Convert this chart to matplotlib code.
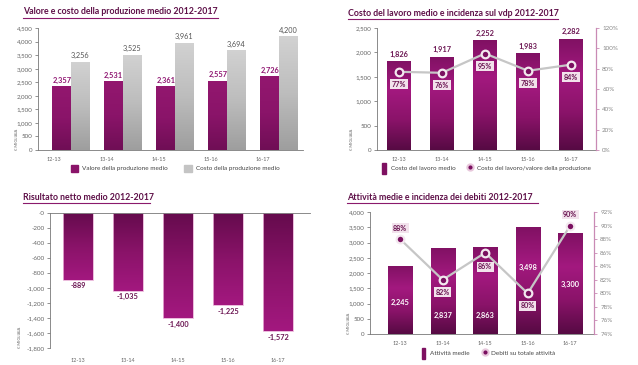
import numpy as np
import matplotlib
matplotlib.use('Agg')
import matplotlib.pyplot as plt
from matplotlib.colors import LinearSegmentedColormap
from matplotlib.patches import Patch
from matplotlib.lines import Line2D
from matplotlib.ticker import FuncFormatter

plt.rcParams['font.family'] = ['Lato', 'DejaVu Sans']

periods = ['12-13', '13-14', '14-15', '15-16', '16-17']
valore_prod = [2357, 2531, 2361, 2557, 2726]
costo_prod = [3256, 3525, 3961, 3694, 4200]
costo_lavoro = [1826, 1917, 2252, 1983, 2282]
incidenza_lavoro = [77, 76, 95, 78, 84]
risultato_netto = [-889, -1035, -1400, -1225, -1572]
attivita = [2245, 2837, 2863, 3498, 3300]
incidenza_debiti = [88, 82, 86, 80, 90]

PURPLE_DARK = '#5e1048'
LABEL_PURPLE = '#6b1552'
TICK_GRAY = '#666666'
PINK_AXIS = '#c98ab5'


def gradient_bars(ax, bars, colors):
    # paint each bar with a vertical gradient (colors listed top -> bottom)
    cmap = LinearSegmentedColormap.from_list('g', colors)
    grad = np.linspace(0, 1, 256).reshape(-1, 1)
    for b in bars:
        x0, y0 = b.get_xy()
        w, h = b.get_width(), b.get_height()
        im = ax.imshow(grad, cmap=cmap, aspect='auto', origin='upper',
                       extent=(x0, x0 + w, min(y0, y0 + h), max(y0, y0 + h)),
                       zorder=b.get_zorder() - 0.1)
        im.set_clip_path(b)
        b.set_facecolor('none')


def thousands(v, p):
    return f'{int(round(v)):,}'


def style_left(ax, unit_x):
    ax.tick_params(axis='y', length=2, width=0.5, labelsize=4.5, colors=TICK_GRAY, pad=2)
    ax.tick_params(axis='x', length=0, labelsize=4, colors=TICK_GRAY, pad=5)
    for s in ['left', 'bottom']:
        ax.spines[s].set_color('#777777')
        ax.spines[s].set_linewidth(0.6)
    ax.text(unit_x, 0.0, '€ MIGLIAIA', transform=ax.transAxes, rotation=90,
            fontsize=3.0, color=TICK_GRAY, ha='center', va='bottom')


def title(fig, x0, x1, y, text):
    W, H = 638, 365
    fig.text(x0 / W, 1 - y / H, text, fontsize=6.3, fontweight='bold',
             color=PURPLE_DARK, ha='left', va='center')
    fig.add_artist(Line2D([x0 / W, x1 / W], [1 - (y + 6) / H] * 2,
                          color='#8a1a6c', lw=0.8))


fig = plt.figure(figsize=(6.38, 3.65), dpi=100)
fig.patch.set_facecolor('white')
x = np.arange(len(periods))

# ---------- panel 1: valore e costo della produzione ----------
ax1 = fig.add_axes([0.0596, 0.589, 0.4154, 0.334])
w = 0.36
b_val = ax1.bar(x - w / 2, valore_prod, w, zorder=2)
b_cost = ax1.bar(x + w / 2, costo_prod, w, zorder=2)
gradient_bars(ax1, b_val, ['#93176f', '#8a1469', '#6f0e55'])
gradient_bars(ax1, b_cost, ['#d2d2d2', '#bdbdbd', '#9e9e9e'])
for i in range(len(periods)):
    ax1.text(x[i] - w / 2, valore_prod[i] + 90, f'{valore_prod[i]:,}', ha='center',
             va='bottom', fontsize=5.3, fontweight='bold', color='#8e1470')
    ax1.text(x[i] + w / 2, costo_prod[i] + 90, f'{costo_prod[i]:,}', ha='center',
             va='bottom', fontsize=5.3, color='#555555')
ax1.set_xlim(-0.635, 4.46)
ax1.set_ylim(0, 4500)
ax1.set_yticks(np.arange(0, 4501, 500))
ax1.yaxis.set_major_formatter(FuncFormatter(thousands))
ax1.set_xticks(x - 0.32)
ax1.set_xticklabels(periods)
for s in ['top', 'right']:
    ax1.spines[s].set_visible(False)
style_left(ax1, -0.078)
ax1.legend(handles=[Patch(color='#8a1469', label='Valore della produzione medio'),
                    Patch(color='#c4c4c4', label='Costo della produzione medio')],
           loc='center', bbox_to_anchor=(0.517, -0.15), ncol=2, frameon=False,
           fontsize=4.6, handlelength=1.2, handleheight=1.2, columnspacing=2.5,
           handletextpad=0.6, labelcolor='#444444')
title(fig, 23, 218, 12, 'Valore e costo della produzione medio 2012-2017')

# ---------- panel 2: costo del lavoro ----------
ax2 = fig.add_axes([0.591, 0.589, 0.343, 0.334])
bars2 = ax2.bar(x, costo_lavoro, 0.54, zorder=2)
gradient_bars(ax2, bars2, ['#801163', '#a3197f', '#8a1369', '#560a43'])
for i in range(len(periods)):
    ax2.text(x[i], costo_lavoro[i] + 70, f'{costo_lavoro[i]:,}', ha='center',
             va='bottom', fontsize=5.3, fontweight='bold', color=LABEL_PURPLE)
ax2.set_xlim(-0.51, 4.58)
ax2.set_ylim(0, 2500)
ax2.set_yticks(np.arange(0, 2501, 500))
ax2.yaxis.set_major_formatter(FuncFormatter(thousands))
ax2.set_xticks(x)
ax2.set_xticklabels(periods)
ax2.spines['top'].set_visible(False)
ax2.spines['right'].set_visible(False)
style_left(ax2, -0.115)
ax2r = ax2.twinx()
ax2r.set_ylim(0, 1.2)
ax2r.set_yticks(np.arange(0, 1.21, 0.2))
ax2r.yaxis.set_major_formatter(FuncFormatter(lambda v, p: f'{v * 100:.0f}%'))
ax2r.tick_params(axis='y', length=2.5, width=0.6, color=PINK_AXIS, labelcolor='#888888',
                 labelsize=4.5, pad=2)
for s in ['top', 'left', 'bottom']:
    ax2r.spines[s].set_visible(False)
ax2r.spines['right'].set_color(PINK_AXIS)
ax2r.spines['right'].set_linewidth(0.9)
inc2 = np.array(incidenza_lavoro) / 100
ax2r.plot(x, inc2, color='#c6c6c6', lw=1.6, marker='o', ms=5.5, mfc='#7a1060',
          mec='#f3e8ef', mew=1.6, zorder=3)
for i in range(len(periods)):
    ax2r.annotate(f'{incidenza_lavoro[i]}%', (x[i], inc2[i]), xytext=(0, -9),
                  textcoords='offset points', ha='center', va='center', fontsize=5.2,
                  fontweight='bold', color=LABEL_PURPLE,
                  bbox=dict(boxstyle='square,pad=0.2', fc='#f2e2ec', ec='none'))
ax2.legend(handles=[Patch(color='#7e1161', label='Costo del lavoro medio'),
                    Line2D([], [], ls='none', marker='o', ms=4.5, mfc='#7a1060',
                           mec='#e8c8dc', mew=1.5,
                           label='Costo del lavoro/valore della produzione')],
           loc='center', bbox_to_anchor=(0.5, -0.15), ncol=2, frameon=False,
           fontsize=4.6, handlelength=0.55, handleheight=2.3, columnspacing=2.0,
           handletextpad=0.8, labelcolor='#444444')
title(fig, 348, 558, 13, 'Costo del lavoro medio e incidenza sul vdp 2012-2017')

# ---------- panel 3: risultato netto ----------
ax3 = fig.add_axes([0.0784, 0.0466, 0.4075, 0.370])
bars3 = ax3.bar(x, risultato_netto, 0.6, zorder=2, edgecolor='#e8b0d6', linewidth=0.6)
gradient_bars(ax3, bars3, ['#650b4d', '#8a1369', '#a3187f'])
for i in range(len(periods)):
    ax3.annotate(f'{risultato_netto[i]:,}', (x[i], risultato_netto[i]), xytext=(0, -2),
                 textcoords='offset points', ha='center', va='top', fontsize=5.3,
                 fontweight='bold', color=LABEL_PURPLE)
ax3.set_xlim(-0.56, 4.64)
ax3.set_ylim(-1800, 0)
ax3.set_yticks(np.arange(0, -1801, -200))
ax3.yaxis.set_major_formatter(FuncFormatter(lambda v, p: f'-{abs(int(round(v))):,}'))
ax3.set_xticks(x)
ax3.set_xticklabels(periods)
ax3.spines['right'].set_visible(False)
ax3.spines['bottom'].set_visible(False)
ax3.spines['top'].set_color('#777777')
ax3.spines['top'].set_linewidth(0.6)
style_left(ax3, -0.115)
ax3.tick_params(axis='x', pad=7)
title(fig, 23, 150, 197, 'Risultato netto medio 2012-2017')

# ---------- panel 4: attività e debiti ----------
ax4 = fig.add_axes([0.580, 0.0849, 0.351, 0.334])
bars4 = ax4.bar(x, attivita, 0.57, zorder=2)
gradient_bars(ax4, bars4, ['#801163', '#a3197f', '#8a1369', '#560a43'])
label_y = [1050, 610, 610, 2200, 1620]
for i in range(len(periods)):
    ax4.text(x[i], label_y[i], f'{attivita[i]:,}', ha='center', va='center',
             fontsize=5.3, fontweight='bold', color='white', zorder=4)
ax4.set_xlim(-0.71, 4.56)
ax4.set_ylim(0, 4000)
ax4.set_yticks(np.arange(0, 4001, 500))
ax4.yaxis.set_major_formatter(FuncFormatter(thousands))
ax4.set_xticks(x)
ax4.set_xticklabels(periods)
ax4.spines['top'].set_visible(False)
ax4.spines['right'].set_visible(False)
style_left(ax4, -0.095)
ax4r = ax4.twinx()
ax4r.set_ylim(74, 92)
ax4r.set_yticks(np.arange(74, 93, 2))
ax4r.yaxis.set_major_formatter(FuncFormatter(lambda v, p: f'{v:.0f}%'))
ax4r.tick_params(axis='y', length=2.5, width=0.6, color=PINK_AXIS, labelcolor='#888888',
                 labelsize=4.5, pad=2)
for s in ['top', 'left', 'bottom']:
    ax4r.spines[s].set_visible(False)
ax4r.spines['right'].set_color(PINK_AXIS)
ax4r.spines['right'].set_linewidth(0.9)
ax4r.plot(x, incidenza_debiti, color='#c6c6c6', lw=1.6, marker='o', ms=5.5,
          mfc='#7a1060', mec='#f3e8ef', mew=1.6, zorder=3)
offsets = [8, -9, -10, -9, 8]
for i in range(len(periods)):
    ax4r.annotate(f'{incidenza_debiti[i]}%', (x[i], incidenza_debiti[i]),
                  xytext=(0, offsets[i]), textcoords='offset points', ha='center',
                  va='center', fontsize=5.2, fontweight='bold', color=LABEL_PURPLE,
                  bbox=dict(boxstyle='square,pad=0.2', fc='#f2e2ec', ec='none'))
ax4.legend(handles=[Patch(color='#7e1161', label='Attività medie'),
                    Line2D([], [], ls='none', marker='o', ms=4.5, mfc='#7a1060',
                           mec='#e8c8dc', mew=1.5, label='Debiti su totale attività')],
           loc='center', bbox_to_anchor=(0.53, -0.16), ncol=2, frameon=False,
           fontsize=4.6, handlelength=0.55, handleheight=2.3, columnspacing=2.0,
           handletextpad=0.8, labelcolor='#444444')
title(fig, 347, 538, 197, 'Attività medie e incidenza dei debiti 2012-2017')

fig.savefig('out.png', dpi=100)
